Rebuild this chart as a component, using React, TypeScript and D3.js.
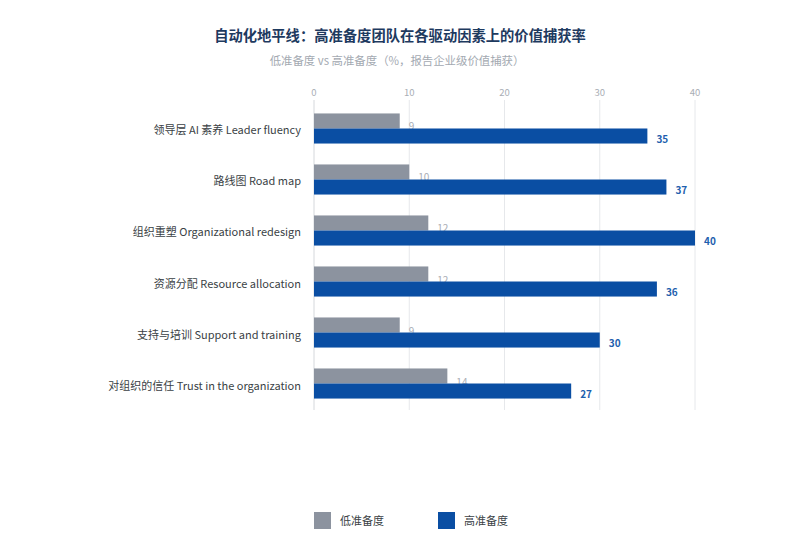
import React from "react";
import * as d3 from "d3";

const categories = [
  "领导层 AI 素养 Leader fluency",
  "路线图 Road map",
  "组织重塑 Organizational redesign",
  "资源分配 Resource allocation",
  "支持与培训 Support and training",
  "对组织的信任 Trust in the organization",
];
const lowValues = [9, 10, 12, 12, 9, 14];
const highValues = [35, 37, 40, 36, 30, 27];
const tickValues = [0, 10, 20, 30, 40];
const seriesNames = ["低准备度", "高准备度"];

const W = 800;
const H = 552;
const FONT = "'Noto Sans CJK SC', 'Noto Sans', sans-serif";
const GRAY = "#8c939f";
const BLUE = "#0a4ea3";

export default function App() {
  const x = d3.scaleLinear().domain([0, 40]).range([314, 695]);
  const y = d3
    .scaleBand<string>()
    .domain(categories)
    .range([101, 411])
    .paddingInner(0.41)
    .paddingOuter(0.244);
  const bw = y.bandwidth() / 2;

  return (
    <svg
      width={W}
      height={H}
      style={{ position: "absolute", left: 0, top: 0, background: "#fff", fontFamily: FONT }}
    >
      <text x={400} y={41} textAnchor="middle" fontSize={14.3} fontWeight={700} fill="#1e3a5f">
        自动化地平线：高准备度团队在各驱动因素上的价值捕获率
      </text>
      <text x={397} y={65} textAnchor="middle" fontSize={11.4} fill="#a3a9b1">
        低准备度 vs 高准备度（%，报告企业级价值捕获）
      </text>

      {tickValues.map((t) => (
        <g key={t}>
          <line x1={x(t)} x2={x(t)} y1={100} y2={410} stroke={t === 0 ? "#d5d8dc" : "#e6e8eb"} strokeWidth={1} />
          <text x={x(t)} y={96} textAnchor="middle" fontSize={9.5} fill="#a9aeb5">
            {t}
          </text>
        </g>
      ))}

      {categories.map((c, i) => {
        const y0 = y(c)!;
        return (
          <g key={c}>
            <text x={301} y={y0 + bw + 6} textAnchor="end" fontSize={11} fill="#3a3f45">
              {c}
            </text>
            <rect x={x(0)} y={y0} width={x(lowValues[i]) - x(0)} height={bw} fill={GRAY} />
            <text x={x(lowValues[i]) + 9} y={y0 + bw + 2} fontSize={10} fill="#a9aeb5">
              {lowValues[i]}
            </text>
            <rect x={x(0)} y={y0 + bw} width={x(highValues[i]) - x(0)} height={bw} fill={BLUE} />
            <text x={x(highValues[i]) + 9} y={y0 + 2 * bw - 1} fontSize={10} fontWeight={700} fill="#1f5fae">
              {highValues[i]}
            </text>
          </g>
        );
      })}

      {seriesNames.map((s, i) => (
        <g key={s} transform={`translate(${314 + i * 124}, 512)`}>
          <rect x={0} y={0} width={17} height={17} fill={i === 0 ? GRAY : BLUE} />
          <text x={26} y={13} fontSize={11} fill="#3a3f45">
            {s}
          </text>
        </g>
      ))}
    </svg>
  );
}
